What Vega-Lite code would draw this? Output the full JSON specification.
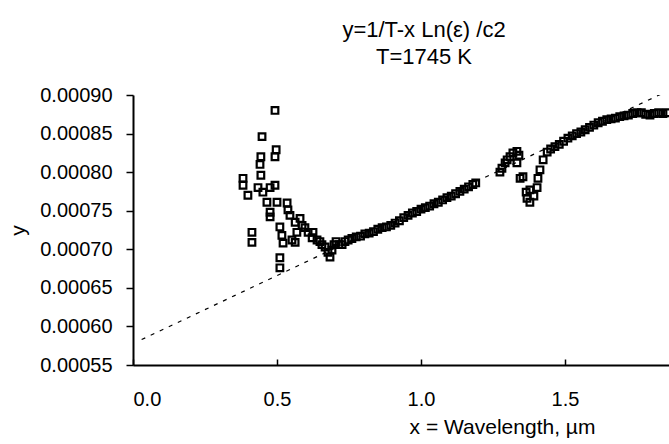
{
  "$schema": "https://vega.github.io/schema/vega-lite/v6.json",
  "width": 536,
  "height": 270,
  "autosize": "none",
  "padding": {"left": 133, "top": 95, "right": 0, "bottom": 79},
  "background": "white",
  "config": {
    "font": "Liberation Sans",
    "view": {"stroke": null},
    "axis": {"grid": false, "domainColor": "black", "domainWidth": 2, "tickColor": "black", "tickWidth": 1.5, "labelColor": "black", "titleColor": "black", "labelFont": "Liberation Sans", "titleFont": "Liberation Sans", "labelFontSize": 20, "titleFontSize": 21, "titleFontWeight": "normal"}
  },
  "title": {
    "text": ["y=1/T-x Ln(ε) /c2", "T=1745 K"],
    "fontSize": 22,
    "fontWeight": "normal",
    "font": "Liberation Sans",
    "color": "black",
    "anchor": "middle",
    "frame": "group",
    "dx": 23,
    "offset": 16,
    "lineHeight": 27
  },
  "datasets": {
    "fit": [
      {"x": 0.03, "y": 0.000583},
      {"x": 1.861, "y": 0.000906}
    ],
    "pts": [
      {"x": 0.382, "y": 0.000792}, {"x": 0.382, "y": 0.000783}, {"x": 0.399, "y": 0.00077}, {"x": 0.413, "y": 0.000722}, {"x": 0.413, "y": 0.000709},
      {"x": 0.434, "y": 0.00078}, {"x": 0.441, "y": 0.00081}, {"x": 0.444, "y": 0.00082}, {"x": 0.444, "y": 0.000796}, {"x": 0.448, "y": 0.000846},
      {"x": 0.451, "y": 0.000774}, {"x": 0.465, "y": 0.000761}, {"x": 0.476, "y": 0.00078}, {"x": 0.476, "y": 0.000748}, {"x": 0.476, "y": 0.000742},
      {"x": 0.493, "y": 0.00088}, {"x": 0.493, "y": 0.00082}, {"x": 0.493, "y": 0.000783}, {"x": 0.497, "y": 0.000829}, {"x": 0.5, "y": 0.000761},
      {"x": 0.51, "y": 0.000729}, {"x": 0.51, "y": 0.000689}, {"x": 0.51, "y": 0.000676}, {"x": 0.517, "y": 0.000718}, {"x": 0.521, "y": 0.000708},
      {"x": 0.535, "y": 0.00076}, {"x": 0.538, "y": 0.000751}, {"x": 0.545, "y": 0.000744}, {"x": 0.552, "y": 0.000712}, {"x": 0.563, "y": 0.000735},
      {"x": 0.569, "y": 0.000722}, {"x": 0.563, "y": 0.000709}, {"x": 0.58, "y": 0.00074}, {"x": 0.587, "y": 0.000731},
      {"x": 0.597, "y": 0.000728}, {"x": 0.608, "y": 0.000722}, {"x": 0.622, "y": 0.000715}, {"x": 0.625, "y": 0.000722}, {"x": 0.639, "y": 0.000712},
      {"x": 0.649, "y": 0.00071}, {"x": 0.656, "y": 0.000706}, {"x": 0.667, "y": 0.000703}, {"x": 0.677, "y": 0.000696}, {"x": 0.684, "y": 0.00069},
      {"x": 0.691, "y": 0.000699}, {"x": 0.698, "y": 0.000706}, {"x": 0.705, "y": 0.00071}, {"x": 0.715, "y": 0.000706}, {"x": 0.726, "y": 0.000706},
      {"x": 0.736, "y": 0.00071}, {"x": 0.747, "y": 0.000712},
      {"x": 0.76, "y": 0.000714}, {"x": 0.775, "y": 0.000716}, {"x": 0.79, "y": 0.000717}, {"x": 0.805, "y": 0.00072}, {"x": 0.82, "y": 0.000721},
      {"x": 0.835, "y": 0.000723}, {"x": 0.85, "y": 0.000726}, {"x": 0.865, "y": 0.000728}, {"x": 0.88, "y": 0.000729}, {"x": 0.895, "y": 0.000731},
      {"x": 0.91, "y": 0.000734}, {"x": 0.925, "y": 0.000737}, {"x": 0.94, "y": 0.000741}, {"x": 0.955, "y": 0.000744}, {"x": 0.97, "y": 0.000747},
      {"x": 0.985, "y": 0.000749}, {"x": 1.0, "y": 0.000752}, {"x": 1.015, "y": 0.000754}, {"x": 1.03, "y": 0.000756}, {"x": 1.045, "y": 0.000759},
      {"x": 1.06, "y": 0.000761}, {"x": 1.075, "y": 0.000764}, {"x": 1.09, "y": 0.000767}, {"x": 1.105, "y": 0.000769}, {"x": 1.12, "y": 0.000772},
      {"x": 1.135, "y": 0.000775}, {"x": 1.15, "y": 0.000778}, {"x": 1.165, "y": 0.000781}, {"x": 1.18, "y": 0.000784}, {"x": 1.19, "y": 0.000786},
      {"x": 1.274, "y": 0.0008}, {"x": 1.281, "y": 0.000805}, {"x": 1.292, "y": 0.000812}, {"x": 1.299, "y": 0.000816}, {"x": 1.309, "y": 0.00082},
      {"x": 1.319, "y": 0.000825}, {"x": 1.333, "y": 0.000827}, {"x": 1.34, "y": 0.000822}, {"x": 1.333, "y": 0.000812}, {"x": 1.344, "y": 0.000792},
      {"x": 1.354, "y": 0.000794}, {"x": 1.365, "y": 0.000774}, {"x": 1.368, "y": 0.000766}, {"x": 1.378, "y": 0.000761}, {"x": 1.378, "y": 0.000777},
      {"x": 1.392, "y": 0.000769}, {"x": 1.403, "y": 0.00078}, {"x": 1.406, "y": 0.000792}, {"x": 1.413, "y": 0.000803}, {"x": 1.424, "y": 0.000816},
      {"x": 1.438, "y": 0.000826},
      {"x": 1.45, "y": 0.00083}, {"x": 1.465, "y": 0.000833}, {"x": 1.48, "y": 0.000836}, {"x": 1.495, "y": 0.00084}, {"x": 1.51, "y": 0.000844},
      {"x": 1.525, "y": 0.000847}, {"x": 1.54, "y": 0.00085}, {"x": 1.555, "y": 0.000852}, {"x": 1.57, "y": 0.000855}, {"x": 1.585, "y": 0.000858},
      {"x": 1.6, "y": 0.000861}, {"x": 1.615, "y": 0.000864}, {"x": 1.63, "y": 0.000866}, {"x": 1.645, "y": 0.000868}, {"x": 1.66, "y": 0.000869},
      {"x": 1.675, "y": 0.00087}, {"x": 1.69, "y": 0.000872}, {"x": 1.705, "y": 0.000873}, {"x": 1.72, "y": 0.000874}, {"x": 1.735, "y": 0.000876},
      {"x": 1.75, "y": 0.000877}, {"x": 1.765, "y": 0.000877}, {"x": 1.78, "y": 0.000875}, {"x": 1.795, "y": 0.000874}, {"x": 1.81, "y": 0.000876},
      {"x": 1.825, "y": 0.000877}, {"x": 1.84, "y": 0.000876}, {"x": 1.855, "y": 0.000877}
    ]
  },
  "encoding": {
    "x": {"field": "x", "type": "quantitative", "scale": {"domain": [0, 1.861], "nice": false, "zero": false},
      "axis": {"values": [0, 0.5, 1.0, 1.5], "format": ".1f", "title": "x = Wavelength, µm", "ticks": true, "tickSize": -6, "labelPadding": 30, "labelOverlap": false, "titleX": 369, "titleY": 62, "titleBaseline": "middle", "titleAnchor": "start", "titleAlign": "center"}},
    "y": {"field": "y", "type": "quantitative", "scale": {"domain": [0.00055, 0.0009], "nice": false, "zero": false},
      "axis": {"values": [0.00055, 0.0006, 0.00065, 0.0007, 0.00075, 0.0008, 0.00085, 0.0009], "format": ".5f", "title": "y", "ticks": true, "tickSize": 7, "labelPadding": 14, "labelOverlap": false, "labelFlush": false, "titleX": -115, "titleY": 135, "titleBaseline": "middle", "titleAlign": "center", "titleAnchor": "start"}}
  },
  "layer": [
    {
      "data": {"name": "fit"},
      "mark": {"type": "line", "color": "black", "strokeWidth": 1.2, "strokeDash": [4, 6], "clip": true}
    },
    {
      "data": {"name": "pts"},
      "mark": {"type": "point", "shape": "square", "filled": false, "color": "black", "strokeWidth": 2.2, "size": 44, "opacity": 1, "clip": true}
    }
  ]
}
